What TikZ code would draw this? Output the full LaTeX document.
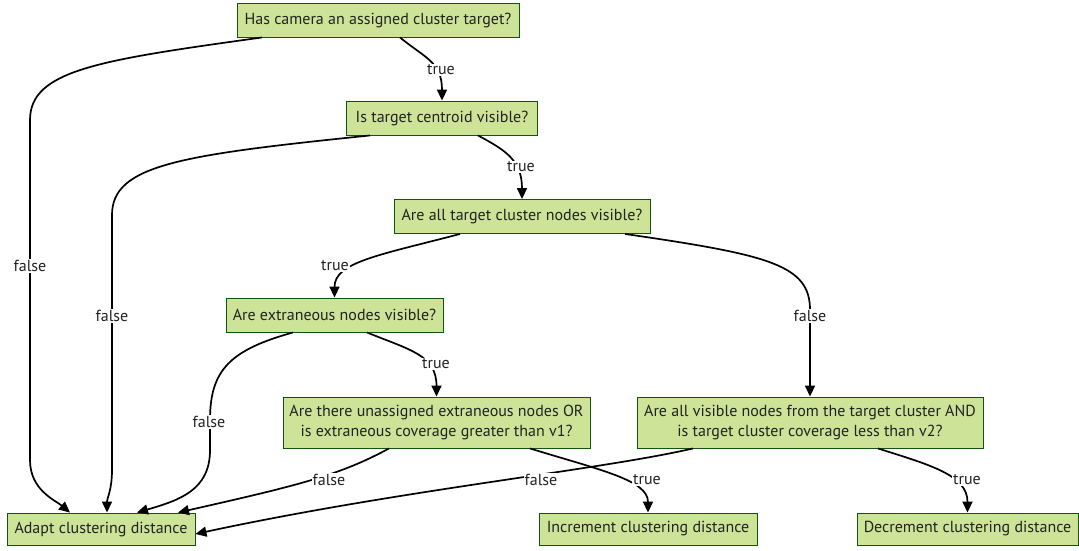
\documentclass[tikz,border=0pt]{standalone}
\usepackage{fontspec}
\setmainfont{PT Sans}
\usetikzlibrary{arrows.meta}
\definecolor{boxfill}{HTML}{CDE498}
\definecolor{boxline}{HTML}{13540C}
\definecolor{txt}{HTML}{222222}
\begin{document}
\begin{tikzpicture}[x=1pt,y=-1pt,
  box/.style={draw=boxline,fill=boxfill,line width=0.9pt,text=txt,
    font=\fontsize{16}{19.5}\selectfont,inner sep=0pt,align=center,
    minimum height=34pt},
  tallbox/.style={box,minimum height=51pt},
  flow/.style={draw=black,line width=1.7pt,-{Triangle[length=11pt,width=10pt]}},
  lbl/.style={fill=white,text=txt,font=\fontsize{16}{18}\selectfont,inner sep=1pt}
]
\useasboundingbox (0,0) rectangle (1079,550);

% decision boxes
\node[box,minimum width=282pt] (cam) at (378,20) {Has camera an assigned cluster target?};
\node[box,minimum width=191pt] (cent) at (442,118) {Is target centroid visible?};
\node[box,minimum width=256pt] (allv) at (522,216.5) {Are all target cluster nodes visible?};
\node[box,minimum width=217pt] (extra) at (334.5,315) {Are extraneous nodes visible?};
\node[tallbox,minimum width=307pt] (unas) at (436.5,422.5) {Are there unassigned extraneous nodes OR\\is extraneous coverage greater than v1?};
\node[tallbox,minimum width=346pt] (cov) at (810,422.5) {Are all visible nodes from the target cluster AND\\is target cluster coverage less than v2?};

% outcome boxes
\node[box,minimum width=188pt,minimum height=32pt] (adapt) at (101,529) {Adapt clustering distance};
\node[box,minimum width=218pt,minimum height=32pt] (inc) at (648,529) {Increment clustering distance};
\node[box,minimum width=221pt,minimum height=32pt] (dec) at (967.5,529) {Decrement clustering distance};

% connectors
\draw[flow] ([xshift=22pt]cam.south) .. controls (425,58) and (442,62) .. (cent.north);
\draw[flow] ([xshift=-116pt]cam.south) .. controls (100,60) and (30,70) .. (30,120)
  -- (30,460) .. controls (30,490) and (55,500) .. ([xshift=-31pt]adapt.north);
\draw[flow] ([xshift=-72pt]cent.south) .. controls (180,155) and (112,165) .. (112,215)
  -- (112,470) .. controls (112,490) and (107,498) .. ([xshift=6pt]adapt.north);
\draw[flow] ([xshift=36pt]cent.south) .. controls (505,150) and (522,160) .. (allv.north);
\draw[flow] ([xshift=-62pt]allv.south) .. controls (380,255) and (334.5,262) .. (extra.north);
\draw[flow] ([xshift=103pt]allv.south) .. controls (770,255) and (810,265) .. (810,310) -- (cov.north);
\draw[flow] ([xshift=-41.5pt]extra.south) .. controls (230,350) and (210,370) .. (210,420)
  -- (210,450) .. controls (210,490) and (180,500) .. ([xshift=36pt]adapt.north);
\draw[flow] ([xshift=32.5pt]extra.south) .. controls (410,350) and (436.5,355) .. (unas.north);
\draw[flow] ([xshift=-47.5pt]unas.south) .. controls (340,475) and (300,485) .. ([xshift=77pt]adapt.north);
\draw[flow] ([xshift=93.5pt]unas.south) .. controls (600,470) and (648,480) .. (inc.north);
\draw[flow] ([xshift=-117pt]cov.south) .. controls (600,470) and (400,490) .. ([yshift=-5pt]adapt.east);
\draw[flow] ([xshift=68pt]cov.south) .. controls (930,465) and (967.5,475) .. (dec.north);

% connector labels
\node[lbl] (l1) at (441,70) {true};
\node[lbl] (l2) at (30,266) {false};
\node[lbl] (l3) at (112,316) {false};
\node[lbl] (l4) at (521,167) {true};
\node[lbl] (l5) at (335,266) {true};
\node[lbl] (l6) at (810,316) {false};
\node[lbl] (l7) at (209,422) {false};
\node[lbl] (l8) at (436,364) {true};
\node[lbl] (l9) at (329,480) {false};
\node[lbl] (l10) at (647,480) {true};
\node[lbl] (l11) at (541,480) {false};
\node[lbl] (l12) at (967,480) {true};
\end{tikzpicture}
\end{document}
